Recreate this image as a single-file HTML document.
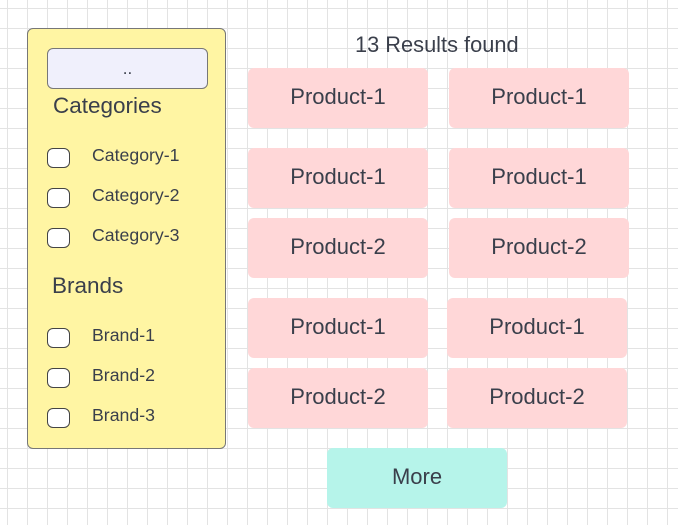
<!DOCTYPE html>
<html><head><style>
body{margin:0;width:678px;height:525px;overflow:hidden;position:relative;font-family:"Liberation Sans",sans-serif;color:#3a3f4b;
background-color:#fff;background-image:linear-gradient(to right,#e3e3e3 1px,transparent 1px),linear-gradient(to bottom,#e3e3e3 1px,transparent 1px);background-size:20px 20px;background-position:7px 8px;}
.a{position:absolute;box-sizing:border-box;display:flex;align-items:center;justify-content:center;}
.p{background:#ffd7d8;border-radius:6px;width:180px;height:60px;font-size:22px;padding-bottom:2px;}
.cb{position:absolute;width:23px;height:20px;border:1.5px solid #444;border-radius:6px;background:#fff;box-sizing:border-box;}
.t{position:absolute;font-size:17.7px;}
</style></head><body>
<div class="a" style="left:27px;top:28px;width:199px;height:421px;background:#fff5a3;border:1.5px solid #777;border-radius:6px;"></div>
<div class="a" style="left:47px;top:48px;width:161px;height:41px;background:#f0f0fc;border:1.5px solid #777;border-radius:6px;font-size:17px;">..</div>
<div class="t" style="left:53px;top:93px;font-size:22.5px;">Categories</div>
<div class="cb" style="left:47px;top:148px"></div><div class="t" style="left:92px;top:145px">Category-1</div>
<div class="cb" style="left:47px;top:188px"></div><div class="t" style="left:92px;top:185px">Category-2</div>
<div class="cb" style="left:47px;top:228px"></div><div class="t" style="left:92px;top:225px">Category-3</div>
<div class="t" style="left:52px;top:273px;font-size:22.5px;">Brands</div>
<div class="cb" style="left:47px;top:328px"></div><div class="t" style="left:92px;top:325px">Brand-1</div>
<div class="cb" style="left:47px;top:368px"></div><div class="t" style="left:92px;top:365px">Brand-2</div>
<div class="cb" style="left:47px;top:408px"></div><div class="t" style="left:92px;top:405px">Brand-3</div>
<div class="t" style="left:355px;top:32px;font-size:21.8px;">13 Results found</div>
<div class="a p" style="left:248px;top:68px">Product-1</div>
<div class="a p" style="left:449px;top:68px">Product-1</div>
<div class="a p" style="left:248px;top:148px">Product-1</div>
<div class="a p" style="left:449px;top:148px">Product-1</div>
<div class="a p" style="left:248px;top:218px">Product-2</div>
<div class="a p" style="left:449px;top:218px">Product-2</div>
<div class="a p" style="left:248px;top:298px">Product-1</div>
<div class="a p" style="left:447px;top:298px">Product-1</div>
<div class="a p" style="left:248px;top:368px">Product-2</div>
<div class="a p" style="left:447px;top:368px">Product-2</div>
<div class="a p" style="left:327px;top:448px;background:#b6f4ea">More</div>
</body></html>
